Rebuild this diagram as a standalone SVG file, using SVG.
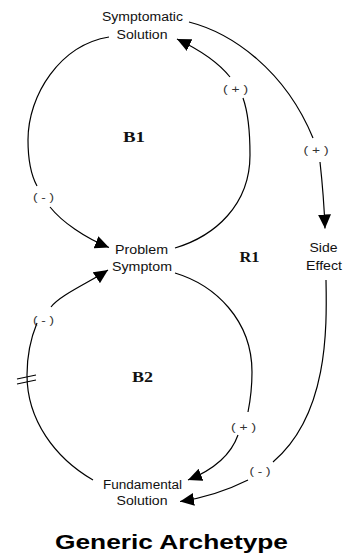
<svg xmlns="http://www.w3.org/2000/svg" width="344" height="557" viewBox="0 0 344 557">
  <style>
    .node { font-family: "Liberation Sans", Arial, sans-serif; font-size: 12px; fill: #111; text-anchor: middle; }
    .loop { font-family: "Liberation Serif", "Times New Roman", serif; font-size: 15px; font-weight: bold; fill: #111; text-anchor: middle; }
    .pol { font-family: "Liberation Sans", Arial, sans-serif; font-size: 10.5px; fill: #333; text-anchor: middle; }
    .title { font-family: "Liberation Sans", Arial, sans-serif; font-size: 21px; font-weight: bold; fill: #000; text-anchor: middle; }
    .link { fill: none; stroke: #000; stroke-width: 1.2; }
    .arrow { fill: none; stroke: #000; stroke-width: 1.2; marker-end: url(#ah); }
  </style>
  <defs>
    <marker id="ah" markerUnits="userSpaceOnUse" markerWidth="14" markerHeight="13" refX="14" refY="6.5" orient="auto">
      <path d="M0,0 L14,6.5 L0,13 Z" fill="#000"/>
    </marker>
  </defs>
  <rect width="344" height="557" fill="#fff"/>

  <g id="connectors">
    <!-- B1: Symptomatic Solution -> Problem Symptom (-) -->
    <path class="link" d="M109,37 C60,45 28,95 28,140 C28,160 31,175 37,186"/>
    <path class="arrow" d="M50,207 C62,222 85,238 109,247.5"/>
    <text class="pol" x="43.5" y="201" textLength="21" lengthAdjust="spacingAndGlyphs">( - )</text>

    <!-- B1: Problem Symptom -> Symptomatic Solution (+) -->
    <path class="link" d="M175,248 C215,236 250,205 250,155 C250,130 248,112 243,98"/>
    <path class="arrow" d="M230,77 C218,62 200,50 177,39"/>
    <text class="pol" x="235.5" y="93" textLength="25" lengthAdjust="spacingAndGlyphs">( + )</text>

    <!-- R1: Symptomatic Solution -> Side Effect (+) -->
    <path class="link" d="M189,22 C232,33 285,70 313,138"/>
    <path class="arrow" d="M320,162 C322,180 324,200 325,228.5"/>
    <text class="pol" x="316" y="154" textLength="25" lengthAdjust="spacingAndGlyphs">( + )</text>

    <!-- B2: Fundamental Solution -> Problem Symptom (-) with delay -->
    <path class="link" d="M93,480 C55,458 27,420 27,375 C27,355 30,340 37,323"/>
    <path class="arrow" d="M51,307 C60,295 90,282 108,270"/>
    <text class="pol" x="43.5" y="324" textLength="21" lengthAdjust="spacingAndGlyphs">( - )</text>
    <path class="link" d="M17,379 L36,375 M17,384 L36,380"/>

    <!-- B2: Problem Symptom -> Fundamental Solution (+) -->
    <path class="link" d="M175,273 C215,285 252,320 252,372 C252,390 250,402 248,412"/>
    <path class="arrow" d="M238,435 C232,452 218,468 188,480"/>
    <text class="pol" x="243.5" y="431" textLength="25" lengthAdjust="spacingAndGlyphs">( + )</text>

    <!-- R1: Side Effect -> Fundamental Solution (-) -->
    <path class="link" d="M326,280 C327,330 328,415 273,462"/>
    <path class="arrow" d="M248,480 C232,488 210,497 180,501.5"/>
    <text class="pol" x="260" y="475" textLength="21" lengthAdjust="spacingAndGlyphs">( - )</text>
  </g>

  <g id="symptomatic-solution">
    <text class="node" x="142.5" y="21" textLength="81" lengthAdjust="spacingAndGlyphs">Symptomatic</text>
    <text class="node" x="142" y="38.5" textLength="51" lengthAdjust="spacingAndGlyphs">Solution</text>
  </g>
  <g id="problem-symptom">
    <text class="node" x="141.5" y="253.5" textLength="53" lengthAdjust="spacingAndGlyphs">Problem</text>
    <text class="node" x="142" y="270.5" textLength="60" lengthAdjust="spacingAndGlyphs">Symptom</text>
  </g>
  <g id="side-effect">
    <text class="node" x="323.5" y="252" textLength="28" lengthAdjust="spacingAndGlyphs">Side</text>
    <text class="node" x="324" y="270" textLength="36" lengthAdjust="spacingAndGlyphs">Effect</text>
  </g>
  <g id="fundamental-solution">
    <text class="node" x="142.5" y="489" textLength="79" lengthAdjust="spacingAndGlyphs">Fundamental</text>
    <text class="node" x="142" y="505" textLength="51" lengthAdjust="spacingAndGlyphs">Solution</text>
  </g>

  <g id="loop-labels">
    <text class="loop" x="134" y="142" textLength="22" lengthAdjust="spacingAndGlyphs">B1</text>
    <text class="loop" x="249.5" y="262" textLength="20" lengthAdjust="spacingAndGlyphs">R1</text>
    <text class="loop" x="142.5" y="382" textLength="21" lengthAdjust="spacingAndGlyphs">B2</text>
  </g>

  <text id="title" class="title" x="171.5" y="549" textLength="233" lengthAdjust="spacingAndGlyphs">Generic Archetype</text>
</svg>
